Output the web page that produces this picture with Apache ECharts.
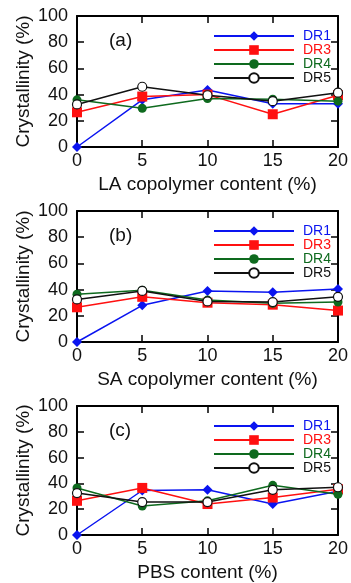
<!DOCTYPE html>
<html>
<head>
<meta charset="utf-8">
<script src="https://cdn.jsdelivr.net/npm/echarts@6/dist/echarts.min.js"></script>
<style>
  html, body { margin: 0; padding: 0; background: #fff; }
  #chart { width: 351px; height: 583px; }
</style>
</head>
<body>
<div id="chart"></div>
<script>
// x positions (content %)
var contents = [0, 5, 10, 15, 20];
var yTicks = [0, 20, 40, 60, 80, 100];
var seriesNames = ["DR1", "DR3", "DR4", "DR5"];
var panelLabels = ["(a)", "(b)", "(c)"];
var xTitles = ["LA copolymer content (%)", "SA copolymer content (%)", "PBS content (%)"];

// panel (a) LA
var laDR1 = [0, 36, 43.5, 33, 33];
var laDR3 = [26.5, 38.5, 40, 25, 39.5];
var laDR4 = [36, 29.5, 37, 36.5, 35];
var laDR5 = [32.5, 46, 39.5, 35, 41.5];
// panel (b) SA
var saDR1 = [0, 28, 39, 38, 40.5];
var saDR3 = [26.5, 34.5, 30, 28.5, 24];
var saDR4 = [36.5, 39.5, 32, 29.5, 30.5];
var saDR5 = [32.5, 39, 31, 30.5, 34.5];
// panel (c) PBS
var pbsDR1 = [0, 34.5, 35, 24, 34];
var pbsDR3 = [26.5, 36.5, 24, 29, 35.5];
var pbsDR4 = [36.5, 22.5, 26.5, 38.5, 31.5];
var pbsDR5 = [32.5, 25.5, 25.5, 35, 37];

var panels = [
  [laDR1, laDR3, laDR4, laDR5],
  [saDR1, saDR3, saDR4, saDR5],
  [pbsDR1, pbsDR3, pbsDR4, pbsDR5]
];

var colors = ["#0a14f0", "#ff1010", "#0e6a1e", "#111111"];
var symbols = ["diamond", "rect", "circle", "circle"];
var symbolSizes = [10, 10, 9, 9];
var tops = [16, 211, 406];
var plotH = 131;
var font = "Liberation Sans, Arial, Helvetica, sans-serif";

var grids = [], xAxes = [], yAxes = [], series = [], legends = [], titles = [];

tops.forEach(function (top, p) {
  grids.push({ left: 77, right: 12, top: top, height: plotH });
  // onZero off so the top/right frame axes stay at the edges
  var axisLine = { show: true, onZero: false, lineStyle: { color: "#000", width: 2 } };
  var tick = { show: true, inside: true, length: 7, lineStyle: { color: "#000", width: 1.5 } };
  // bottom x
  xAxes.push({
    gridIndex: p, type: "value", min: 0, max: 20, interval: 5, position: "bottom",
    axisLine: axisLine, axisTick: tick, splitLine: { show: false },
    axisLabel: { color: "#111", fontSize: 18, fontFamily: font, margin: 5 },
    name: xTitles[p], nameLocation: "middle", nameGap: 28, nameMoveOverlap: false,
    nameTextStyle: { color: "#111", fontSize: 19, fontFamily: font }
  });
  // top x
  xAxes.push({
    gridIndex: p, type: "value", min: 0, max: 20, interval: 5, position: "top",
    axisLine: axisLine, axisTick: tick, splitLine: { show: false },
    axisLabel: { show: false }
  });
  // left y
  yAxes.push({
    gridIndex: p, type: "value", min: yTicks[0], max: yTicks[yTicks.length - 1], interval: 20,
    position: "left", axisLine: axisLine, axisTick: tick, splitLine: { show: false },
    axisLabel: { color: "#111", fontSize: 18, fontFamily: font, margin: 9 },
    name: "Crystallinity (%)", nameLocation: "middle", nameGap: 44, nameMoveOverlap: false,
    nameTextStyle: { color: "#111", fontSize: 19, fontFamily: font }
  });
  // right y
  yAxes.push({
    gridIndex: p, type: "value", min: yTicks[0], max: yTicks[yTicks.length - 1], interval: 20,
    position: "right", axisLine: axisLine, axisTick: tick, splitLine: { show: false },
    axisLabel: { show: false }
  });

  panels[p].forEach(function (vals, s) {
    series.push({
      name: seriesNames[s],
      type: "line",
      xAxisIndex: p * 2,
      yAxisIndex: p * 2,
      data: contents.map(function (x, i) { return [x, vals[i]]; }),
      symbol: symbols[s],
      symbolSize: symbolSizes[s],
      showAllSymbol: true,
      lineStyle: { color: colors[s], width: 1.5 },
      itemStyle: s === 3
        ? { color: "#fff", borderColor: "#111", borderWidth: 1.2 }
        : { color: colors[s], borderWidth: 0 },
      z: 2 + s
    });
  });

  legends.push({
    orient: "vertical",
    left: 213,
    top: top + 13,
    padding: 0,
    itemWidth: 80,
    itemHeight: 12,
    itemGap: 0,
    selectedMode: false,
    lineStyle: { width: 2 },
    textStyle: { fontSize: 14, lineHeight: 12, fontFamily: font, padding: [0, 0, 0, 4] },
    data: seriesNames.map(function (n, s) {
      return { name: n, textStyle: { color: colors[s] } };
    })
  });

  titles.push({
    text: panelLabels[p],
    left: 104,
    top: top + 10,
    textStyle: { fontSize: 19, fontWeight: "normal", color: "#111", fontFamily: font }
  });
});

var chart = echarts.init(document.getElementById("chart"));
chart.setOption({
  animation: false,
  title: titles,
  grid: grids,
  xAxis: xAxes,
  yAxis: yAxes,
  legend: legends,
  series: series
});
window.addEventListener("resize", chart.resize);
</script>
</body>
</html>
